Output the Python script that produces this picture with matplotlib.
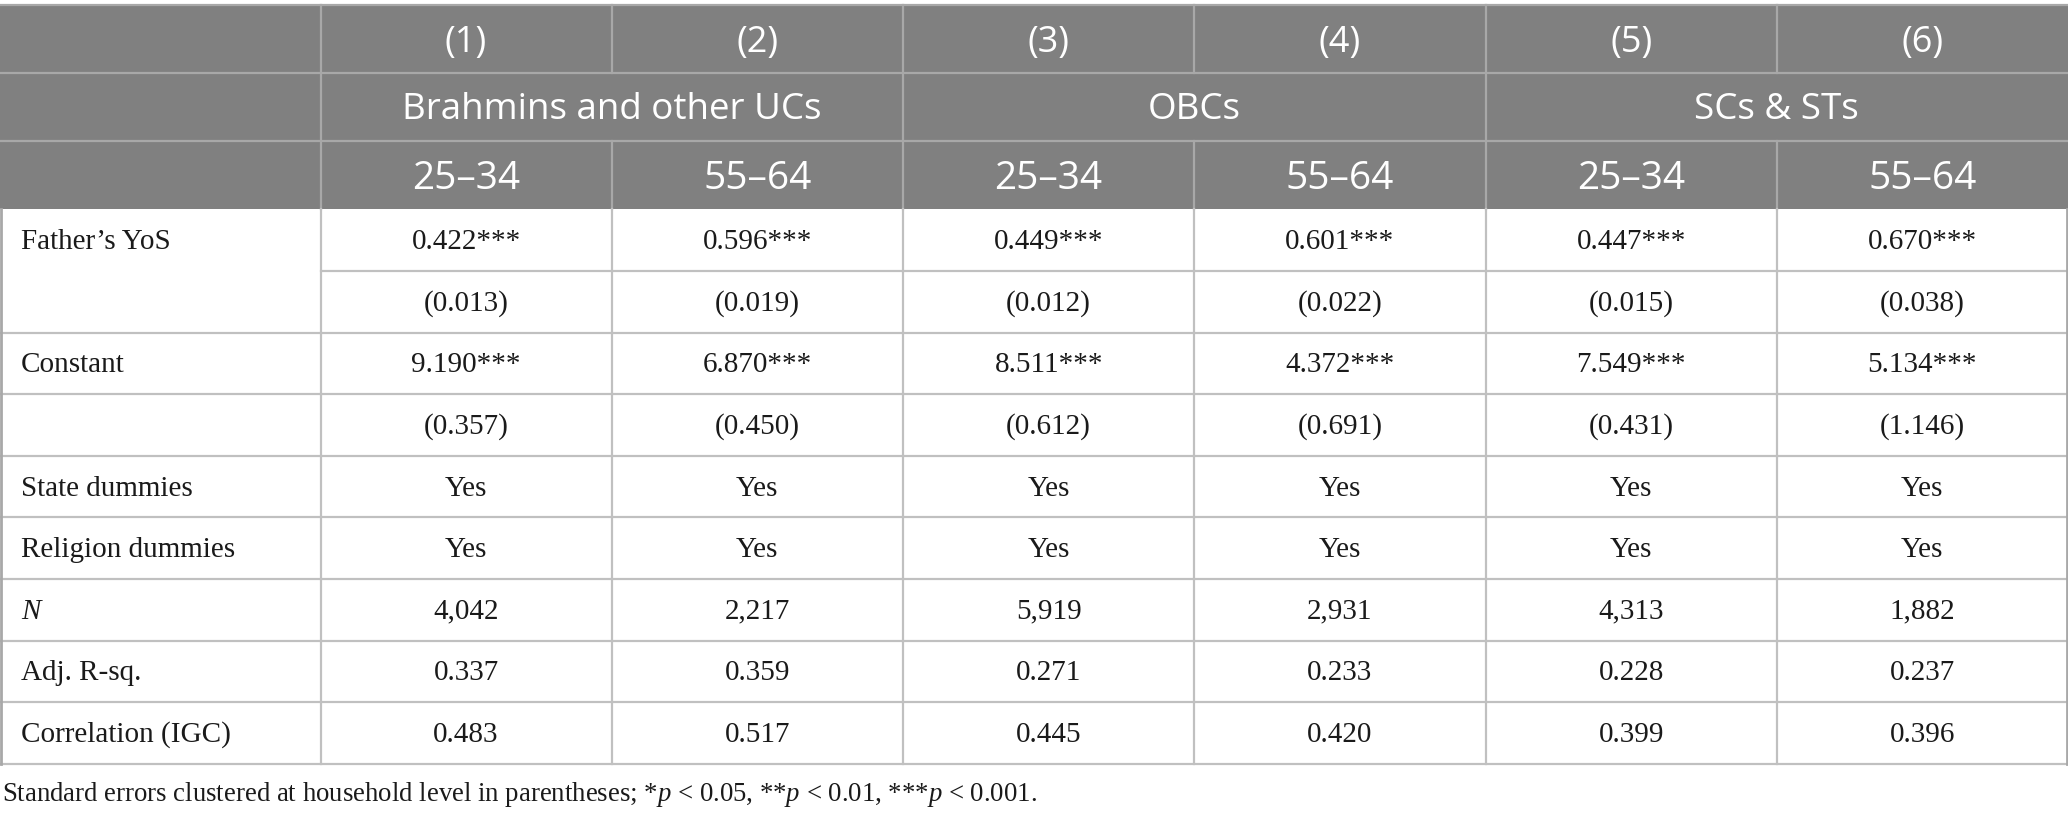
import matplotlib
matplotlib.use("Agg")
import matplotlib.pyplot as plt
from matplotlib.patches import Rectangle

plt.rcParams['mathtext.fontset'] = 'custom'
plt.rcParams['mathtext.rm'] = 'Liberation Serif'
plt.rcParams['mathtext.it'] = 'Liberation Serif:italic'

# table content
model_labels = ['(1)', '(2)', '(3)', '(4)', '(5)', '(6)']
group_labels = ['Brahmins and other UCs', 'OBCs', 'SCs & STs']
age_labels = ['25–34', '55–64', '25–34', '55–64', '25–34', '55–64']

row_labels = ["Father’s YoS", '', 'Constant', '', 'State dummies', 'Religion dummies',
              '$N$', 'Adj. R-sq.', 'Correlation (IGC)']
father_coef = ['0.422***', '0.596***', '0.449***', '0.601***', '0.447***', '0.670***']
father_se = ['(0.013)', '(0.019)', '(0.012)', '(0.022)', '(0.015)', '(0.038)']
const_coef = ['9.190***', '6.870***', '8.511***', '4.372***', '7.549***', '5.134***']
const_se = ['(0.357)', '(0.450)', '(0.612)', '(0.691)', '(0.431)', '(1.146)']
state_dummies = ['Yes'] * 6
religion_dummies = ['Yes'] * 6
n_obs = ['4,042', '2,217', '5,919', '2,931', '4,313', '1,882']
adj_r2 = ['0.337', '0.359', '0.271', '0.233', '0.228', '0.237']
igc = ['0.483', '0.517', '0.445', '0.420', '0.399', '0.396']
body = [father_coef, father_se, const_coef, const_se, state_dummies,
        religion_dummies, n_obs, adj_r2, igc]

footnote = ('Standard errors clustered at household level in parentheses; '
            '*$p$ < 0.05, **$p$ < 0.01, ***$p$ < 0.001.')

# layout (pixels)
W, H = 2068, 818
top = 4.7
first_w = 320.5
col_w = (W - first_w) / 6
head_h = 68.2
row_h = 61.6

head_bg = '#808080'
head_line = '#a8a8a8'
body_line = '#c0c0c0'
txt = '#1a1a1a'
sans = 'Open Sans'
serif = 'Liberation Serif'

fig = plt.figure(figsize=(W / 100, H / 100), dpi=100)
ax = fig.add_axes([0, 0, 1, 1])
ax.set_xlim(0, W)
ax.set_ylim(H, 0)
ax.axis('off')

col_x = [first_w + i * col_w for i in range(7)]

# header background
ax.add_patch(Rectangle((0, top), W, 3 * head_h, facecolor=head_bg, edgecolor='none'))
hy = [top + i * head_h for i in range(4)]
for y in hy[:3]:
    ax.plot([0, W], [y, y], color=head_line, lw=1.6)
ax.plot([first_w, first_w], [hy[0], hy[3]], color=head_line, lw=1.6)
for i in range(1, 6):
    if i % 2 == 1:
        ax.plot([col_x[i]] * 2, [hy[0], hy[1]], color=head_line, lw=1.6)
        ax.plot([col_x[i]] * 2, [hy[2], hy[3]], color=head_line, lw=1.6)
    else:
        ax.plot([col_x[i]] * 2, [hy[0], hy[3]], color=head_line, lw=1.6)

for i, lab in enumerate(model_labels):
    ax.text((col_x[i] + col_x[i + 1]) / 2, (hy[0] + hy[1]) / 2 + 4, lab, ha='center',
            va='center', color='white', fontsize=26, family=sans)
for g, lab in enumerate(group_labels):
    ax.text(col_x[2 * g + 1], (hy[1] + hy[2]) / 2 + 3, lab, ha='center',
            va='center', color='white', fontsize=26.5, family=sans)
for i, lab in enumerate(age_labels):
    ax.text((col_x[i] + col_x[i + 1]) / 2, (hy[2] + hy[3]) / 2 + 4, lab, ha='center',
            va='center', color='white', fontsize=28, family=sans)

# body
by = [hy[3] + i * row_h for i in range(len(body) + 1)]
for r in range(1, len(body) + 1):
    x0 = first_w if r == 1 else 0
    ax.plot([x0, W], [by[r], by[r]], color=body_line, lw=1.6)
for x in col_x[:-1]:
    ax.plot([x, x], [by[0], by[-1]], color=body_line, lw=1.6)
ax.plot([1, 1], [by[0], by[-1]], color='#a8a8a8', lw=2)
ax.plot([W - 1, W - 1], [by[0], by[-1]], color='#a8a8a8', lw=2)

for r, vals in enumerate(body):
    yc = (by[r] + by[r + 1]) / 2 + 2
    ax.text(21, yc, row_labels[r], ha='left', va='center', color=txt,
            fontsize=21, family=serif)
    for i, v in enumerate(vals):
        ax.text((col_x[i] + col_x[i + 1]) / 2, yc, v, ha='center', va='center',
                color=txt, fontsize=21, family=serif)

ax.text(2, by[-1] + 31, footnote, ha='left', va='center', color=txt,
        fontsize=19.3, family=serif)

fig.savefig('out.png', dpi=100)
